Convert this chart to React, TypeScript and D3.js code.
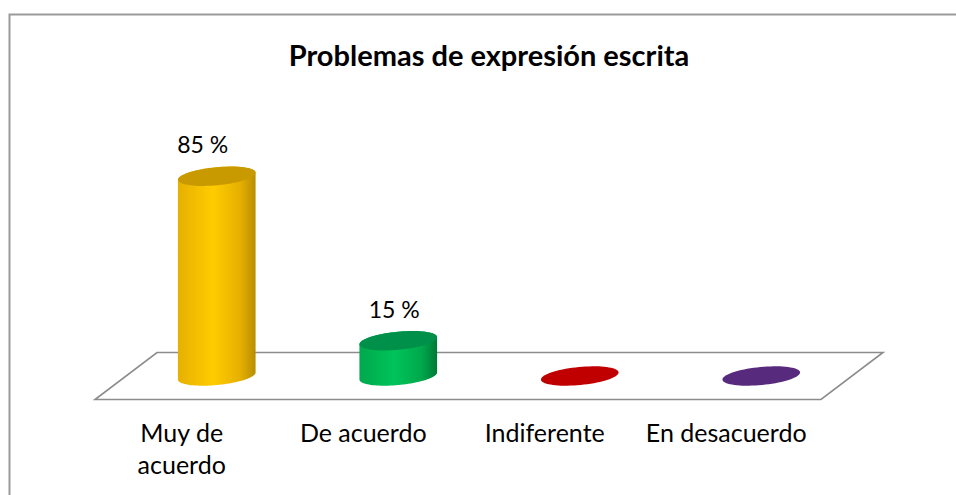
import React from "react";
import * as d3 from "d3";

const categories = ["Muy de acuerdo", "De acuerdo", "Indiferente", "En desacuerdo"];
const categoryLines = [["Muy de", "acuerdo"], ["De acuerdo"], ["Indiferente"], ["En desacuerdo"]];
const values = [85, 15, 0, 0];
const valueLabels = ["85 %", "15 %", "", ""];
const colors = [
  { light: "#FFCC00", mid: "#E6B000", dark: "#B88E00", top: "#C99A00" },
  { light: "#00C45A", mid: "#00A84C", dark: "#007A36", top: "#00904A" },
  { light: "#C00000", mid: "#C00000", dark: "#C00000", top: "#C00000" },
  { light: "#572A7E", mid: "#572A7E", dark: "#572A7E", top: "#572A7E" },
];
const title = "Problemas de expresión escrita";

const W = 956;
const H = 495;
const FONT = "Lato, 'Open Sans', sans-serif";

export default function App() {
  const floorLeft = 95;
  const floorRight = 821;
  const floorFrontY = 399.5;
  const depthX = 62;
  const depthY = 47;

  const x = d3.scaleBand<string>().domain(categories).range([floorLeft, floorRight]).paddingInner(0).paddingOuter(0);
  const y = d3.scaleLinear().domain([0, 100]).range([0, 235]);

  const baseY = floorFrontY - depthY / 2;
  const rx = 39;
  const ry = 9;
  const rot = (-5.5 * Math.PI) / 180;

  const ellipsePt = (cx: number, cy: number, t: number) => [
    cx + rx * Math.cos(t) * Math.cos(rot) - ry * Math.sin(t) * Math.sin(rot),
    cy + rx * Math.cos(t) * Math.sin(rot) + ry * Math.sin(t) * Math.cos(rot),
  ];
  const tExt = Math.atan2(-ry * Math.sin(rot), rx * Math.cos(rot));

  const ellipsePath = (cx: number, cy: number) => {
    const pts = d3.range(0, 73).map((i) => ellipsePt(cx, cy, (i / 72) * Math.PI * 2));
    return d3.line()(pts as [number, number][]) + "Z";
  };

  const cylinderBody = (cx: number, topY: number, botY: number) => {
    const n = 48;
    const bottomArc = d3.range(0, n + 1).map((i) => ellipsePt(cx, botY, tExt + (i / n) * Math.PI));
    const topArc = d3.range(0, n + 1).map((i) => ellipsePt(cx, topY, tExt + Math.PI + (i / n) * Math.PI));
    const pts = [...bottomArc, ...topArc];
    return d3.line()(pts as [number, number][]) + "Z";
  };

  const floorPath = d3.line()([
    [floorLeft, floorFrontY],
    [floorRight, floorFrontY],
    [floorRight + depthX, floorFrontY - depthY],
    [floorLeft + depthX, floorFrontY - depthY],
  ] as [number, number][]) + "Z";

  return (
    <svg width={W} height={H} style={{ position: "absolute", left: 0, top: 0 }} fontFamily={FONT}>
      <defs>
        {colors.map((c, i) => (
          <linearGradient key={i} id={`g${i}`} x1="0" x2="1" y1="0" y2="0">
            <stop offset="0" stopColor={c.mid} />
            <stop offset="0.45" stopColor={c.light} />
            <stop offset="0.8" stopColor={c.mid} />
            <stop offset="1" stopColor={c.dark} />
          </linearGradient>
        ))}
      </defs>
      <rect x={0} y={0} width={W} height={H} fill="#fff" />
      <rect x={9.5} y={14.5} width={W + 20} height={H + 20} fill="#fff" stroke="#9a9a9a" strokeWidth={2} />
      <text x={489} y={66} textAnchor="middle" fontSize={29} fontWeight="bold" fill="#000">
        {title}
      </text>
      <path d={floorPath} fill="#fff" stroke="#8c8c8c" strokeWidth={1.6} />
      {categories.map((cat, i) => {
        const cx = (x(cat) as number) + x.bandwidth() / 2 + depthX / 2;
        const h = y(values[i]);
        const topY = baseY - h;
        const c = colors[i];
        return (
          <g key={cat}>
            {h > 0 && <path d={cylinderBody(cx, topY, baseY)} fill={`url(#g${i})`} />}
            <path d={ellipsePath(cx, topY)} fill={c.top} />
            {valueLabels[i] && (
              <text x={cx - 0.06 * h - 2} y={topY - 23} textAnchor="middle" fontSize={23} fill="#000">
                {valueLabels[i]}
              </text>
            )}
          </g>
        );
      })}
      {categories.map((cat, i) => {
        const lx = (x(cat) as number) + x.bandwidth() / 2 - 4;
        return (
          <text key={cat} x={lx} y={442} textAnchor="middle" fontSize={25} fill="#000">
            {categoryLines[i].map((ln, j) => (
              <tspan key={j} x={lx} dy={j === 0 ? 0 : 32}>
                {ln}
              </tspan>
            ))}
          </text>
        );
      })}
    </svg>
  );
}
